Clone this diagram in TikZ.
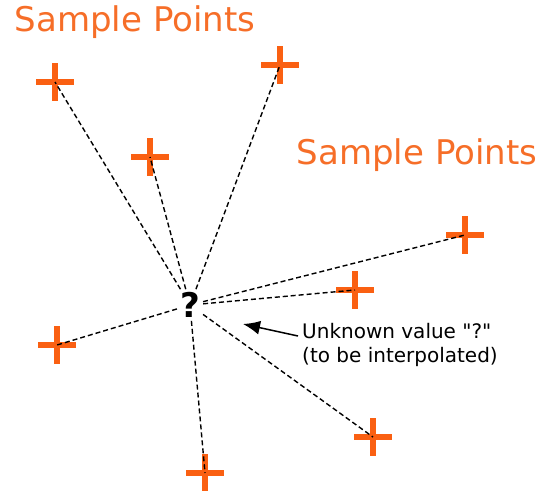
\documentclass[tikz,border=0pt]{standalone}
\usepackage{fontspec}
\setmainfont{DejaVu Sans}
\usetikzlibrary{arrows.meta}
\definecolor{ptorange}{RGB}{250,96,18}
\definecolor{lblorange}{RGB}{246,110,40}
\newcommand{\straightquote}{\XeTeXglyph\XeTeXcharglyph"22\relax}
\tikzset{
  ptcross/.style={ptorange, line width=5.5pt},
  link/.style={dash pattern=on 5pt off 3pt, line width=1.4pt},
  heading/.style={lblorange, font=\fontsize{34}{38}\selectfont},
}
\begin{document}
\begin{tikzpicture}[x=1pt, y=-1pt]
    \useasboundingbox (0,0) rectangle (540,490);

    % sample point locations
    \coordinate (p1) at (55,82);
    \coordinate (p2) at (280,65);
    \coordinate (p3) at (150,157);
    \coordinate (p4) at (465,235);
    \coordinate (p5) at (355,290);
    \coordinate (p6) at (57,345);
    \coordinate (p7) at (373,437);
    \coordinate (p8) at (205,473);

    % the unknown value
    \node[font=\bfseries\fontsize{34}{36}\selectfont, inner sep=3pt] (q) at (190,305) {?};

    % orange crosses
    \foreach \p in {p1,p2,p3,p4,p5,p6,p7,p8}
        \draw[ptcross] (\p) +(-19,0) -- +(19,0) (\p) +(0,-19) -- +(0,19);

    % dashed links to the unknown value
    \foreach \p in {p1,p2,p3,p4,p5,p6,p7,p8}
        \draw[link] (q) -- (\p);

    % labels
    \node[heading] (top) at (135,22) {Sample Points};
    \node[heading] (right) at (417,155) {Sample Points};

    \node[align=left, anchor=west, font=\fontsize{20}{24}\selectfont, inner sep=0pt] (note) at (302,345)
        {Unknown value \straightquote?\straightquote\\(to be interpolated)};
    \draw[-{Latex[length=17pt,width=14pt]}, line width=1.5pt] (note.west) ++(-4,-9) -- (243,324);

    \end{tikzpicture}
\end{document}
